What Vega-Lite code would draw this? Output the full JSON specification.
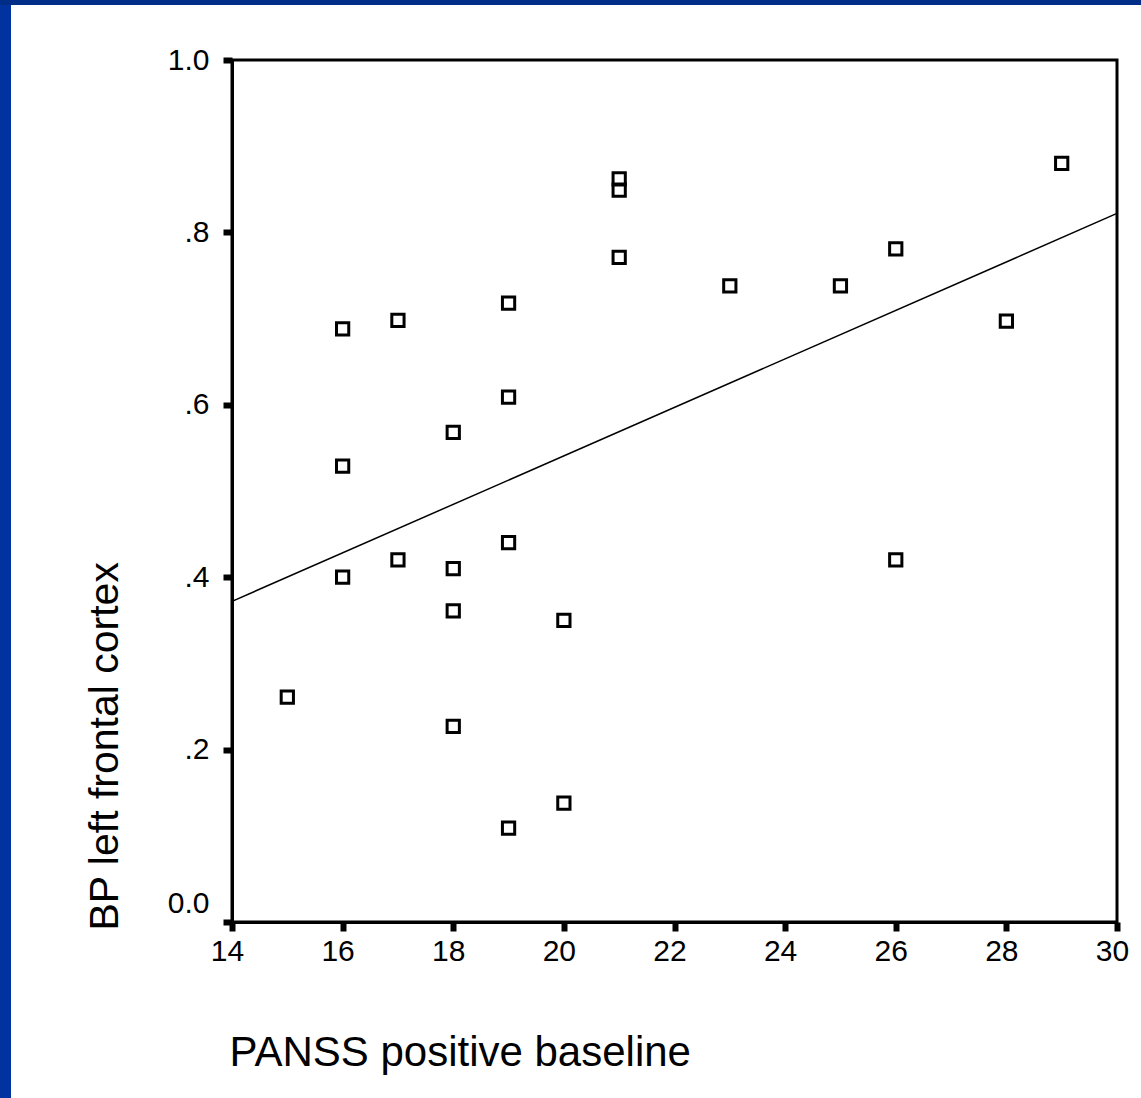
{
  "$schema": "https://vega.github.io/schema/vega-lite/v6.json",
  "background": "white",
  "padding": 0,
  "config": {
    "font": "Liberation Sans",
    "concat": {"spacing": 0}
  },
  "datasets": {
    "points": [
      {"panss": 15, "bp": 0.261},
      {"panss": 16, "bp": 0.688},
      {"panss": 16, "bp": 0.529},
      {"panss": 16, "bp": 0.400},
      {"panss": 17, "bp": 0.698},
      {"panss": 17, "bp": 0.420},
      {"panss": 18, "bp": 0.568},
      {"panss": 18, "bp": 0.410},
      {"panss": 18, "bp": 0.361},
      {"panss": 18, "bp": 0.227},
      {"panss": 19, "bp": 0.718},
      {"panss": 19, "bp": 0.609},
      {"panss": 19, "bp": 0.440},
      {"panss": 19, "bp": 0.109},
      {"panss": 20, "bp": 0.350},
      {"panss": 20, "bp": 0.138},
      {"panss": 21, "bp": 0.862},
      {"panss": 21, "bp": 0.849},
      {"panss": 21, "bp": 0.771},
      {"panss": 23, "bp": 0.738},
      {"panss": 25, "bp": 0.738},
      {"panss": 26, "bp": 0.781},
      {"panss": 26, "bp": 0.420},
      {"panss": 28, "bp": 0.697},
      {"panss": 29, "bp": 0.880}
    ],
    "fit": [
      {"panss": 14, "bp": 0.372},
      {"panss": 30, "bp": 0.822}
    ]
  },
  "spacing": -20,
  "vconcat": [
    {
      "spacing": 0,
      "vconcat": [
        {
          "width": 1141,
          "height": 5,
          "view": {"stroke": null, "fill": "#002d87"},
          "data": {"values": []},
          "mark": "point"
        },
        {
          "width": 11,
          "height": 55,
          "view": {"stroke": null, "fill": "#0033a0"},
          "data": {"values": []},
          "mark": "point"
        }
      ]
    },
    {
      "spacing": 71,
      "hconcat": [
        {
          "width": 11,
          "height": 1045,
          "view": {"stroke": null, "fill": "#0033a0"},
          "data": {"values": []},
          "mark": "point"
        },
        {
          "width": 885,
          "height": 862,
          "view": {"stroke": "black", "strokeWidth": 3, "fill": "white"},
          "layer": [
            {
              "data": {"name": "fit"},
              "mark": {"type": "line", "color": "black", "strokeWidth": 1.5},
              "encoding": {
                "x": {"field": "panss", "type": "quantitative"},
                "y": {"field": "bp", "type": "quantitative"}
              }
            },
            {
              "data": {"name": "points"},
              "mark": {"type": "point", "shape": "square", "filled": false, "stroke": "black", "strokeWidth": 3, "size": 150, "opacity": 1},
              "encoding": {
                "x": {
                  "field": "panss",
                  "type": "quantitative",
                  "scale": {"domain": [14, 30], "nice": false, "zero": false},
                  "axis": {
                    "title": "PANSS positive baseline",
                    "values": [14, 16, 18, 20, 22, 24, 26, 28, 30],
                    "format": "d",
                    "grid": false,
                    "domainColor": "black",
                    "domainWidth": 3,
                    "tickColor": "black",
                    "tickSize": 9,
                    "tickWidth": 6,
                    "labelFontSize": 30,
                    "labelColor": "black",
                    "labelPadding": 5,
                    "labelFlush": false,
                    "labelOffset": -5,
                    "titleFontSize": 42,
                    "titleFontWeight": "normal",
                    "titleColor": "black",
                    "titleAnchor": "start",
                    "titleAlign": "left",
                    "titleX": -3,
                    "titlePadding": 66
                  }
                },
                "y": {
                  "field": "bp",
                  "type": "quantitative",
                  "scale": {"domain": [0, 1], "nice": false},
                  "axis": {
                    "title": "BP left frontal cortex",
                    "values": [0, 0.2, 0.4, 0.6, 0.8, 1],
                    "labelExpr": "datum.value == 0 ? '0.0' : datum.value == 1 ? '1.0' : replace(format(datum.value, '.1f'), '0.', '.')",
                    "grid": false,
                    "domainColor": "black",
                    "domainWidth": 3,
                    "tickColor": "black",
                    "tickSize": 9,
                    "tickWidth": 6,
                    "labelFontSize": 30,
                    "labelColor": "black",
                    "labelPadding": 14,
                    "labelFlush": false,
                    "labelOffset": {"condition": {"test": "datum.value == 0", "value": -19}, "value": 0},
                    "titleFontSize": 41,
                    "titleFontWeight": "normal",
                    "titleColor": "black",
                    "titleAnchor": "start",
                    "titleAlign": "left",
                    "titleY": 870,
                    "titlePadding": 41
                  }
                }
              }
            }
          ]
        }
      ]
    }
  ]
}
